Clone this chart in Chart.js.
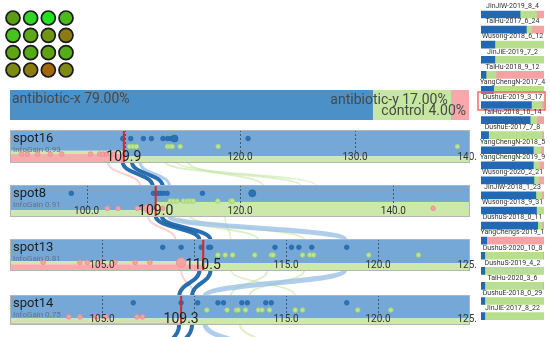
<!DOCTYPE html>
<html>
<head>
<meta charset="UTF-8">
<title>Decision path with sample splits</title>
<style>
  body { margin: 0; width: 550px; height: 337px; position: relative; overflow: hidden; background: #fff; }
  canvas { position: absolute; }
</style>
</head>
<body>
<canvas id="flows" width="550" height="337" style="left:0;top:0"></canvas>
<canvas id="dots" width="90" height="85" style="left:0;top:0"></canvas>
<canvas id="groupBar" width="459" height="30" style="left:10px;top:90px"></canvas>
<canvas id="samples" width="76" height="337" style="left:474px;top:0"></canvas>
<script src="https://cdn.jsdelivr.net/npm/chart.js"></script>
<script>
// ---------- data ----------
const dotColors = ['#5b9c10', '#34d52a', '#23e21f', '#4cbb18',
                   '#45c41c', '#5ca914', '#6f9612', '#8b7b10',
                   '#5fa612', '#58aa14', '#62a212', '#55ad15',
                   '#7d8c10', '#8b7c10', '#a2680e', '#7f8a10'];

const groups = ['antibiotic-x', 'antibiotic-y', 'control'];
const groupShare = [79, 17, 4];

const spotNames = ['spot16', 'spot8', 'spot13', 'spot14'];
const spotGain = [0.93, 0.91, 0.81, 0.75];
const spotSplit = [109.9, 109.0, 110.5, 109.3];
const spotMin = [100, 90, 100, 100];
const spotMax = [140, 150, 125, 125];
const spotTicks = [[110, 120, 130, 140], [100, 120, 140], [105, 110, 115, 120, 125], [105, 110, 115, 120, 125]];
// share of x / y / control on each side of the split
const spotLeftMix = [[63, 10, 27], [79, 21, 0], [69, 10, 21], [78, 14, 8]];
const spotRightMix = [[80, 17, 3], [53, 45, 2], [76, 21, 3], [78, 22, 0]];

const blueVals = [
  [109.8, 110.5, 111.6, 112.3, 113.3, 113.7, 114.0, 114.3, 120.7],
  [98.0, 108.7, 109.2, 109.6, 110.0, 110.5, 115.1, 121.6],
  [108.3, 109.3, 110.4, 110.8, 110.9, 114.4, 115.3, 115.7, 116.4, 118.3],
  [106.7, 109.3, 110.2, 111.3, 111.6, 112.6, 112.9, 113.9, 114.2, 118.3]
];
const blueCounts = [
  [1, 1, 1, 1, 1, 1, 1, 3, 1],
  [1, 1, 1, 1, 1, 1, 1, 3],
  [1, 1, 1, 1, 1, 1, 1, 1, 1, 1],
  [1, 1, 1, 1, 1, 1, 1, 1, 1, 1]
];
const greenVals = [
  [110.4, 110.7, 111.0, 113.7, 113.9, 114.1, 114.8, 118.1, 138.9],
  [110.9, 111.3, 111.8, 112.6, 113.1, 113.5, 113.9, 117.1, 118.8, 119.0],
  [111.3, 111.7, 112.1, 113.3, 114.2, 114.3, 115.9, 116.3, 116.5, 119.5, 122.2],
  [110.7, 111.8, 112.3, 112.4, 112.8, 113.5, 113.7, 114.1, 115.5, 115.9, 118.9, 120.7]
];
const pinkVals = [
  [101.0, 101.5, 102.4, 103.5, 104.5, 107.0, 107.8, 108.1, 108.4, 109.0],
  [102.7, 104.1, 106.6, 107.3, 108.0, 109.9, 145.2],
  [101.8, 103.8, 104.2, 104.9, 105.7, 106.8, 107.6, 109.3],
  [103.2, 103.8, 104.7, 105.2, 106.9, 107.2]
];
const pinkCounts = [
  [1, 1, 1, 1, 1, 1, 1, 1, 1, 1],
  [1, 1, 1, 1, 4, 1, 1],
  [1, 1, 1, 1, 1, 1, 1, 5],
  [1, 1, 1, 1, 1, 1]
];

// flows: [from spot, value at source, value at next spot, kind, weight]
const flows = [
  [0, 108.5, 107.0, 'pink', 2], [0, 113.5, 127.9, 'green', 2], [0, 115.5, 123.0, 'green', 2], [0, 114.5, 130.0, 'green', 1.5],
  [0, 111.3, 110.8, 'light', 3], [0, 109.8, 108.6, 'dark', 4], [0, 110.6, 109.9, 'dark', 4],
  [1, 108.0, 109.0, 'pink', 2], [1, 112.0, 113.5, 'green', 2], [1, 113.5, 116.0, 'green', 2], [1, 118.0, 112.0, 'green', 1.5],
  [1, 110.8, 118.2, 'light', 5], [1, 109.0, 110.3, 'dark', 4], [1, 109.8, 110.9, 'dark', 4],
  [2, 109.3, 110.0, 'pink', 2], [2, 114.0, 112.0, 'green', 2], [2, 116.0, 113.0, 'green', 2], [2, 112.0, 115.5, 'green', 1.5],
  [2, 118.2, 110.6, 'light', 5], [2, 110.3, 109.2, 'dark', 4], [2, 110.9, 109.9, 'dark', 4],
  [3, 112.5, 114.5, 'green', 2], [3, 110.6, 113.0, 'light', 5], [3, 109.2, 108.5, 'dark', 4], [3, 109.9, 109.2, 'dark', 4]
];

const sampleNames = ['JinJiW-2019_8_4', 'TaiHu-2017_6_24', 'Wusong-2018_6_12', 'JinJiE-2019_7_2', 'TaiHu-2018_9_12',
  'YangChengN-2017_4', 'DushuE-2019_3_17', 'TaiHu-2018_10_14', 'DushuE-2017_7_8', 'YangChengN-2018_5',
  'YangChengN-2019_9', 'Wusong-2020_2_21', 'JinJiW-2018_1_23', 'Wusong-2018_9_31', 'DushuS-2018_0_11',
  'YangChengs-2019_1', 'DushuS-2020_10_8', 'DushuS-2019_4_2', 'TaiHu-2020_3_6', 'DushuE-2018_0_29', 'JinJiE-2017_8_22'];
const sampleBlue = [62, 72, 22, 22, 8, 20, 80, 78, 12, 83, 83, 84, 87, 88, 90, 9, 6, 6, 6, 6, 6];
const sampleGreen = [26, 8, 78, 78, 16, 80, 16, 11, 85, 12, 10, 8, 9, 12, 7, 0, 92, 94, 92, 94, 94];
const samplePink = [12, 20, 0, 0, 76, 0, 4, 11, 3, 5, 7, 8, 4, 0, 3, 91, 2, 0, 2, 0, 0];
const highlighted = 6;

// ---------- layout / style ----------
Chart.defaults.font.family = 'Roboto';
const panelLeft = 10, panelWidth = 460, panelOverhang = 6;
const panelTop = [130, 185, 239, 295];
const panelH = [33, 32, 32, 30];
const rowY = [0.74, 0.5, 0.27];
const bandColors = ['#75a8d7', '#cde8ab', '#f6acac'];
const flowColors = { dark: 'rgba(31,102,172,0.95)', light: 'rgba(150,190,228,0.75)',
                     green: 'rgba(190,225,150,0.5)', pink: 'rgba(245,165,165,0.5)' };
const bubbleR = c => 2.3 + 0.6 * (c - 1);
const noUi = () => ({ legend: { display: false }, tooltip: { enabled: false } });

// grid of coloured dots
new Chart(document.getElementById('dots'), {
  type: 'bubble',
  data: { datasets: [{
    data: dotColors.map((c, k) => ({ x: k % 4, y: Math.floor(k / 4), r: 7 })),
    backgroundColor: dotColors, borderColor: '#1a1a1a', borderWidth: 1.7, clip: false
  }] },
  options: {
    responsive: false, animation: false, plugins: noUi(),
    layout: { autoPadding: false, padding: { left: 13, right: 24, top: 18, bottom: 15 } },
    scales: { x: { display: false, min: 0, max: 3 }, y: { display: false, min: 0, max: 3, reverse: true } }
  }
});

// overall group share bar
const groupLabels = {
  id: 'groupLabels',
  afterDatasetsDraw(chart) {
    const { ctx, chartArea: a, scales: { x } } = chart;
    ctx.save();
    ctx.font = '14px Roboto';
    ctx.fillStyle = '#484848';
    ctx.textBaseline = 'alphabetic';
    ctx.textAlign = 'left';
    ctx.fillText(groups[0] + ' ' + groupShare[0].toFixed(2) + '%', a.left + 2, a.top + 13);
    ctx.textAlign = 'right';
    let acc = groupShare[0];
    for (let k = 1; k < groups.length; k++) {
      acc += groupShare[k];
      ctx.fillText(groups[k] + ' ' + groupShare[k].toFixed(2) + '%', x.getPixelForValue(acc) - 3, a.top + 3 + 11 * k);
    }
    ctx.restore();
  }
};
new Chart(document.getElementById('groupBar'), {
  type: 'bar',
  data: { labels: [''], datasets: groups.map((g, k) => ({
    label: g, data: [groupShare[k]], backgroundColor: ['#4b90c6', '#c6e7a2', '#f8a8a8'][k],
    barPercentage: 1, categoryPercentage: 1
  })) },
  options: {
    indexAxis: 'y', responsive: false, animation: false, plugins: noUi(),
    layout: { autoPadding: false },
    scales: { x: { stacked: true, display: false, min: 0, max: 100 }, y: { stacked: true, display: false } }
  },
  plugins: [groupLabels]
});

// split panels
const panelPlugin = {
  id: 'panel',
  beforeDatasetsDraw(chart) {
    const i = chart.options.plugins.panel.index;
    const { ctx, chartArea: a, scales: { x } } = chart;
    const sx = x.getPixelForValue(spotSplit[i]);
    const h = a.bottom - a.top;
    const fill = (x0, x1, mix) => {
      const tot = mix[0] + mix[1] + mix[2];
      let y = a.top;
      mix.forEach((m, k) => {
        const hh = h * m / tot;
        ctx.fillStyle = bandColors[k];
        ctx.fillRect(x0, y, x1 - x0, hh);
        y += hh;
      });
    };
    fill(a.left, sx, spotLeftMix[i]);
    fill(sx, a.right, spotRightMix[i]);
    ctx.save();
    ctx.setLineDash([2, 2]);
    ctx.strokeStyle = '#4a5866';
    ctx.lineWidth = 1;
    spotTicks[i].forEach(t => {
      const px = Math.round(x.getPixelForValue(t)) + 0.5;
      if (px > a.right - 1) return;
      ctx.beginPath(); ctx.moveTo(px, a.top); ctx.lineTo(px, a.bottom - 10); ctx.stroke();
    });
    ctx.restore();
  },
  afterDatasetsDraw(chart) {
    const i = chart.options.plugins.panel.index;
    const { ctx, chartArea: a, scales: { x } } = chart;
    const sx = x.getPixelForValue(spotSplit[i]);
    ctx.save();
    ctx.fillStyle = '#d9262b';
    ctx.fillRect(sx - 1, a.top, 2, a.bottom - a.top);
    ctx.textBaseline = 'alphabetic';
    ctx.textAlign = 'center';
    ctx.font = '10px Roboto';
    ctx.fillStyle = '#333';
    spotTicks[i].forEach(t => {
      const px = x.getPixelForValue(t);
      if (Math.abs(px - sx) < 24 || px - a.left < 12) return;
      ctx.fillText(t.toFixed(1), px, a.bottom - 3);
    });
    ctx.font = '14px Roboto';
    ctx.fillStyle = '#222';
    ctx.fillText(spotSplit[i].toFixed(1), sx, a.bottom - 2);
    ctx.textAlign = 'left';
    ctx.textBaseline = 'top';
    ctx.font = '13px Roboto';
    ctx.fillStyle = '#1e1e1e';
    ctx.fillText(spotNames[i], a.left + 3, a.top + 2);
    ctx.font = '8px Roboto';
    ctx.fillStyle = '#66737f';
    ctx.fillText('InfoGain ' + spotGain[i].toFixed(2), a.left + 3, a.top + 16);
    ctx.strokeStyle = '#b4b4b4';
    ctx.lineWidth = 1;
    ctx.strokeRect(a.left + 0.5, a.top + 0.5, a.right - a.left - 1, a.bottom - a.top - 1);
    ctx.restore();
  }
};

const panels = spotNames.map((name, i) => {
  const cv = document.createElement('canvas');
  cv.width = panelWidth + panelOverhang; cv.height = panelH[i];
  cv.style.left = panelLeft + 'px'; cv.style.top = panelTop[i] + 'px';
  document.body.appendChild(cv);
  const set = (vals, counts, row, bg, border) => ({
    data: vals.map((v, k) => ({ x: v, y: rowY[row], r: bubbleR(counts ? counts[k] : 1) })),
    backgroundColor: bg, borderColor: border, borderWidth: 0.8, clip: false
  });
  return new Chart(cv, {
    type: 'bubble',
    data: { datasets: [
      set(pinkVals[i], pinkCounts[i], 2, '#f5a4a4', '#e88c8c'),
      set(greenVals[i], null, 1, '#bfe493', '#a2d173'),
      set(blueVals[i], blueCounts[i], 0, '#2a72b5', '#2368a8')
    ] },
    options: {
      responsive: false, animation: false,
      layout: { autoPadding: false, padding: { right: panelOverhang } },
      plugins: { ...noUi(), panel: { index: i } },
      scales: { x: { display: false, min: spotMin[i], max: spotMax[i] }, y: { display: false, min: 0, max: 1 } }
    },
    plugins: [panelPlugin]
  });
});

// flows between the split panels
const flowPlugin = {
  id: 'flowLinks',
  afterDraw(chart) {
    const ctx = chart.ctx;
    ctx.save();
    flows.forEach(([p, v0, v1, kind, w]) => {
      const q = Math.min(p + 1, panels.length - 1);
      const x0 = panelLeft + panels[p].scales.x.getPixelForValue(v0);
      const y0 = panelTop[p] + panelH[p];
      const x1 = panelLeft + panels[q].scales.x.getPixelForValue(v1);
      const y1 = p + 1 < panels.length ? panelTop[p + 1] : 352;
      const ym = (y0 + y1) / 2;
      ctx.strokeStyle = flowColors[kind];
      ctx.lineWidth = w;
      ctx.beginPath();
      ctx.moveTo(x0, y0 - 1);
      ctx.bezierCurveTo(x0, ym, x1, ym, x1, y1 + 1);
      ctx.stroke();
    });
    ctx.restore();
  }
};
new Chart(document.getElementById('flows'), {
  type: 'scatter',
  data: { datasets: [] },
  options: { responsive: false, animation: false, plugins: noUi(),
    scales: { x: { display: false }, y: { display: false } } },
  plugins: [flowPlugin]
});

// per-sample composition list
const sampleLabels = {
  id: 'sampleLabels',
  afterDatasetsDraw(chart) {
    const { ctx, chartArea: a } = chart;
    const meta = chart.getDatasetMeta(0);
    const cx = (a.left + a.right) / 2;
    ctx.save();
    ctx.font = '7px Roboto';
    ctx.fillStyle = '#333';
    ctx.textAlign = 'center';
    ctx.textBaseline = 'middle';
    meta.data.forEach((bar, k) => {
      ctx.fillText(sampleNames[k], cx, bar.y - 8);
      if (k === highlighted) {
        ctx.strokeStyle = '#ef6b6b';
        ctx.lineWidth = 1.5;
        ctx.strokeRect(a.left - 3, bar.y - 13, a.right - a.left + 4, 18);
      }
    });
    ctx.restore();
  }
};
new Chart(document.getElementById('samples'), {
  type: 'bar',
  data: { labels: sampleNames, datasets: [
    { data: sampleBlue, backgroundColor: '#2268b2' },
    { data: sampleGreen, backgroundColor: '#b7df8d' },
    { data: samplePink, backgroundColor: '#f5a2a2' }
  ].map(d => ({ ...d, barThickness: 7 })) },
  options: {
    indexAxis: 'y', responsive: false, animation: false, plugins: noUi(),
    layout: { autoPadding: false, padding: { left: 7, right: 6, top: 7, bottom: 13.4 } },
    scales: { x: { stacked: true, display: false, min: 0, max: 100 }, y: { stacked: true, display: false } }
  },
  plugins: [sampleLabels]
});
</script>
</body>
</html>
